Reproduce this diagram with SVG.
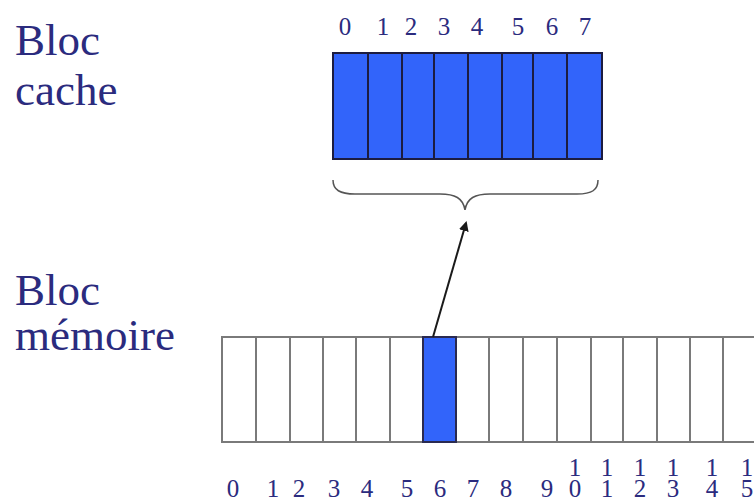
<svg xmlns="http://www.w3.org/2000/svg" width="754" height="502" viewBox="0 0 754 502">
<defs>
<style>
.lbl{font-family:"Liberation Serif","Times New Roman",serif;font-size:45px;fill:#2b2b7e}
.num{font-family:"Liberation Serif","Times New Roman",serif;font-size:25px;fill:#2b2b7e;text-anchor:middle}
.cache{fill:#3264fa;stroke:#1c1c40;stroke-width:2}
.mem{fill:#ffffff;stroke:#7a7a7a;stroke-width:2}
.memsel{fill:#3264fa;stroke:#2a2a50;stroke-width:2}
.brace{fill:none;stroke:#555;stroke-width:1.5}
.arrow{stroke:#1a1a1a;stroke-width:2;fill:none}
</style>
<marker id="ah" markerWidth="10" markerHeight="10" refX="8" refY="5" orient="auto" markerUnits="userSpaceOnUse">
<path d="M0,0 L10,5 L0,10 Z" fill="#1a1a1a"/>
</marker>
</defs>
<rect width="754" height="502" fill="#ffffff"/>

<g id="label-cache">
<text class="lbl" x="15" y="55">Bloc</text>
<text class="lbl" x="15" y="105">cache</text>
</g>
<g id="label-memoire">
<text class="lbl" x="15" y="305">Bloc</text>
<text class="lbl" x="15" y="350">mémoire</text>
</g>

<g id="cache-block">
<rect class="cache" x="333" y="53" width="35" height="106"/>
<rect class="cache" x="368" y="53" width="34" height="106"/>
<rect class="cache" x="402" y="53" width="32" height="106"/>
<rect class="cache" x="434" y="53" width="34" height="106"/>
<rect class="cache" x="468" y="53" width="34" height="106"/>
<rect class="cache" x="502" y="53" width="31" height="106"/>
<rect class="cache" x="533" y="53" width="34" height="106"/>
<rect class="cache" x="567" y="53" width="35" height="106"/>
<text class="num" x="345" y="35">0</text>
<text class="num" x="383" y="35">1</text>
<text class="num" x="411" y="35">2</text>
<text class="num" x="444" y="35">3</text>
<text class="num" x="477" y="35">4</text>
<text class="num" x="518" y="35">5</text>
<text class="num" x="552" y="35">6</text>
<text class="num" x="585" y="35">7</text>
</g>

<g id="brace">
<path class="brace" d="M333,180 C333,190 340,194 355,194 L440,194 C455,194 463,198 465,210 C467,198 475,194 490,194 L577,194 C592,194 598,190 598,180"/>
</g>

<g id="memory-block">
<rect class="mem" x="222" y="337" width="34" height="105"/>
<rect class="mem" x="256" y="337" width="34" height="105"/>
<rect class="mem" x="290" y="337" width="33" height="105"/>
<rect class="mem" x="323" y="337" width="33" height="105"/>
<rect class="mem" x="356" y="337" width="34" height="105"/>
<rect class="mem" x="390" y="337" width="33" height="105"/>
<rect class="mem" x="456" y="337" width="33" height="105"/>
<rect class="mem" x="489" y="337" width="34" height="105"/>
<rect class="mem" x="523" y="337" width="34" height="105"/>
<rect class="mem" x="557" y="337" width="34" height="105"/>
<rect class="mem" x="591" y="337" width="32" height="105"/>
<rect class="mem" x="623" y="337" width="34" height="105"/>
<rect class="mem" x="657" y="337" width="33" height="105"/>
<rect class="mem" x="690" y="337" width="33" height="105"/>
<rect class="mem" x="723" y="337" width="40" height="105"/>
<rect class="memsel" x="423" y="337" width="33" height="105"/>
<text class="num" x="233" y="497">0</text>
<text class="num" x="273" y="497">1</text>
<text class="num" x="299" y="497">2</text>
<text class="num" x="334" y="497">3</text>
<text class="num" x="367" y="497">4</text>
<text class="num" x="407" y="497">5</text>
<text class="num" x="440" y="497">6</text>
<text class="num" x="473" y="497">7</text>
<text class="num" x="506" y="497">8</text>
<text class="num" x="547" y="497">9</text>
<text class="num" x="575" y="476">1<tspan x="575" dy="21">0</tspan></text>
<text class="num" x="607" y="476">1<tspan x="607" dy="21">1</tspan></text>
<text class="num" x="640" y="476">1<tspan x="640" dy="21">2</tspan></text>
<text class="num" x="673" y="476">1<tspan x="673" dy="21">3</tspan></text>
<text class="num" x="712" y="476">1<tspan x="712" dy="21">4</tspan></text>
<text class="num" x="747" y="476">1<tspan x="747" dy="21">5</tspan></text>
</g>

<g id="connectors">
<line class="arrow" x1="433" y1="337" x2="466" y2="223" marker-end="url(#ah)"/>
</g>
</svg>
